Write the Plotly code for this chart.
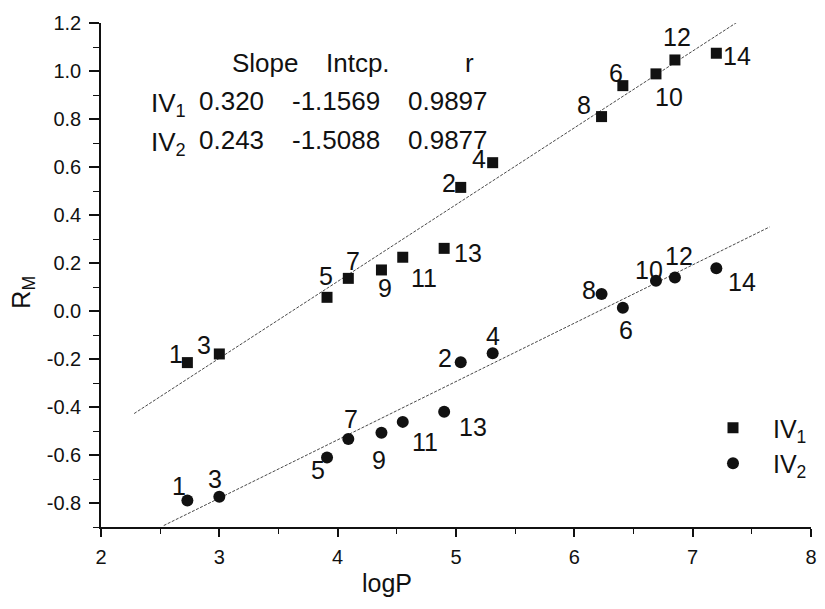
import plotly.graph_objects as go

# ---- data ----
compound = [1, 2, 3, 4, 5, 6, 7, 8, 9, 10, 11, 12, 13, 14]
logP = [2.73, 5.04, 3.00, 5.31, 3.91, 6.41, 4.09, 6.23, 4.37, 6.69, 4.55, 6.85, 4.90, 7.20]
rm_iv1 = [-0.215, 0.515, -0.179, 0.618, 0.057, 0.939, 0.136, 0.810, 0.171, 0.988, 0.224, 1.046, 0.261, 1.074]
rm_iv2 = [-0.790, -0.214, -0.774, -0.176, -0.610, 0.014, -0.533, 0.071, -0.507, 0.126, -0.462, 0.140, -0.420, 0.178]

fit_names = ["IV<sub>1</sub>", "IV<sub>2</sub>"]
fit_slope = [0.320, 0.243]
fit_intercept = [-1.1569, -1.5088]
fit_r = [0.9897, 0.9877]
fit_xrange = [[2.28, 7.38], [2.53, 7.65]]

x_ticks = [2, 3, 4, 5, 6, 7, 8]
x_ticktext = ["2", "3", "4", "5", "6", "7", "8"]
y_ticks = [-0.8, -0.6, -0.4, -0.2, 0.0, 0.2, 0.4, 0.6, 0.8, 1.0, 1.2]
y_ticktext = ["-0.8", "-0.6", "-0.4", "-0.2", "0.0", "0.2", "0.4", "0.6", "0.8", "1.0", "1.2"]

# ---- style: label offsets in pixels (dx right, dy down) ----
off_iv1 = [(-11, -9), (-12, -4), (-15, -9), (-14, -4), (-1, -21), (-7, -13), (5, -17),
           (-18, -12), (4, 18), (13, 23), (21, 21), (2, -23), (24, 5), (21, 3)]
off_iv2 = [(-8, -15), (-16, -4), (-4, -18), (0, -17), (-9, 13), (3, 22), (3, -20),
           (-13, -4), (-2, 27), (-7, -11), (22, 20), (4, -21), (29, 15), (26, 14)]

FONT = "Liberation Sans, Arial, sans-serif"
INK = "#111111"
W, H = 825, 609
ML, MR, MT, MB = 101, 8, 23, 82
XR = [2, 8]
YR = [-0.9, 1.2]
PW = W - ML - MR
PH = H - MT - MB


def px_to_data(px, py):
    x = XR[0] + (px - ML) / PW * (XR[1] - XR[0])
    y = YR[1] - (py - MT) / PH * (YR[1] - YR[0])
    return x, y


def px_to_paper(px, py):
    return (px - ML) / PW, (H - MB - py) / PH


fig = go.Figure()

# regression lines
for k in range(2):
    xs = fit_xrange[k]
    ys = [fit_slope[k] * v + fit_intercept[k] for v in xs]
    fig.add_trace(go.Scatter(x=xs, y=ys, mode="lines", showlegend=False,
                             line=dict(color="#333333", width=0.9, dash="3px,1.5px"),
                             hoverinfo="skip"))

fig.add_trace(go.Scatter(x=logP, y=rm_iv1, mode="markers", name="IV<sub>1</sub>",
                         marker=dict(symbol="square", size=11, color=INK)))
fig.add_trace(go.Scatter(x=logP, y=rm_iv2, mode="markers", name="IV<sub>2</sub>",
                         marker=dict(symbol="circle", size=12, color=INK)))

ann = []
for i, c in enumerate(compound):
    for ys, off in ((rm_iv1, off_iv1), (rm_iv2, off_iv2)):
        ann.append(dict(x=logP[i], y=ys[i], xref="x", yref="y", text=str(c),
                        showarrow=False, xshift=off[i][0], yshift=-off[i][1],
                        xanchor="center", yanchor="middle",
                        font=dict(family=FONT, size=25, color=INK)))

# statistics table
TF = 26
hdr_y = 63
row_y = [101, 140]
for label, cx in (("Slope", 267), ("Intcp.", 360), ("r", 473)):
    x, y = px_to_data(cx, hdr_y)
    ann.append(dict(x=x, y=y, xref="x", yref="y", text=label, showarrow=False,
                    xanchor="center", yanchor="middle",
                    font=dict(family=FONT, size=TF, color=INK)))
for k in range(2):
    x, y = px_to_data(149, row_y[k])
    ann.append(dict(x=x, y=y, xref="x", yref="y", text=fit_names[k], showarrow=False,
                    xanchor="left", yanchor="middle", yshift=-3,
                    font=dict(family=FONT, size=TF, color=INK)))
    cells = ["%.3f" % fit_slope[k], "%.4f" % fit_intercept[k], "%.4f" % fit_r[k]]
    for txt, cx in zip(cells, (233, 338, 451)):
        x, y = px_to_data(cx, row_y[k])
        ann.append(dict(x=x, y=y, xref="x", yref="y", text=txt, showarrow=False,
                        xanchor="center", yanchor="middle",
                        font=dict(family=FONT, size=TF, color=INK)))

# axis titles
x, y = px_to_paper(389, 583)
ann.append(dict(x=x, y=y, xref="paper", yref="paper", text="logP", showarrow=False,
                xanchor="center", yanchor="middle",
                font=dict(family=FONT, size=25, color=INK)))
x, y = px_to_paper(22, 292)
ann.append(dict(x=x, y=y, xref="paper", yref="paper", text="R<sub>M</sub>",
                showarrow=False, textangle=-90, xanchor="center", yanchor="middle",
                font=dict(family=FONT, size=25, color=INK)))

lx, ly = px_to_paper(698, 405)
fig.update_layout(
    width=W, height=H,
    margin=dict(l=ML, r=MR, t=MT, b=MB),
    paper_bgcolor="white", plot_bgcolor="white",
    font=dict(family=FONT, color=INK),
    annotations=ann,
    showlegend=True,
    legend=dict(x=lx, y=ly, xanchor="left", yanchor="top", bgcolor="rgba(0,0,0,0)",
                font=dict(family=FONT, size=25, color=INK),
                itemwidth=70, tracegroupgap=0),
    xaxis=dict(range=XR, showgrid=False, zeroline=False, showline=True,
               linecolor=INK, linewidth=1.5, ticks="outside", ticklen=8,
               tickwidth=1.5, tickcolor=INK, tickvals=x_ticks, ticktext=x_ticktext,
               tickfont=dict(family=FONT, size=20), ticklabelstandoff=3,
               minor=dict(dtick=0.5, tick0=2, ticks="outside", ticklen=5,
                          tickwidth=1.2, tickcolor=INK, showgrid=False)),
    yaxis=dict(range=YR, showgrid=False, zeroline=False, showline=True,
               linecolor=INK, linewidth=1.5, ticks="outside", ticklen=10,
               tickwidth=1.5, tickcolor=INK, tickvals=y_ticks, ticktext=y_ticktext,
               tickfont=dict(family=FONT, size=20), ticklabelstandoff=4,
               minor=dict(dtick=0.1, tick0=0, ticks="outside", ticklen=6,
                          tickwidth=1.2, tickcolor=INK, showgrid=False)),
)

fig.write_html("out.html", config={"displayModeBar": False},
               post_script="document.body.style.margin='0px';")
